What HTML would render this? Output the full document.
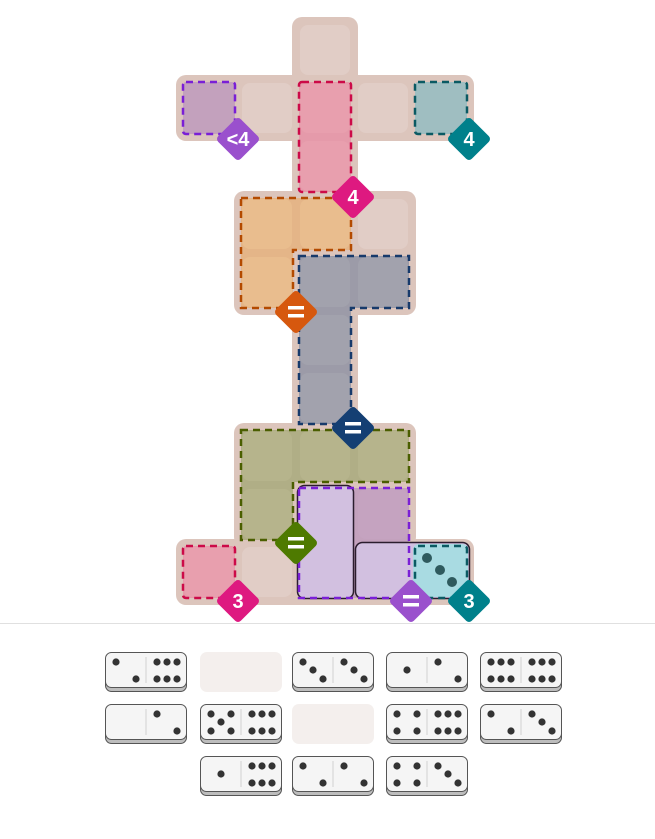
<!DOCTYPE html>
<html><head><meta charset="utf-8"><style>
html,body{margin:0;padding:0;background:#fff;}
svg{display:block;}
text{font-family:"Liberation Sans",sans-serif;font-weight:bold;fill:#fff;text-anchor:middle;}
</style></head><body>
<svg width="655" height="839" viewBox="0 0 655 839" xmlns="http://www.w3.org/2000/svg">
<defs>
<g id="p1"><circle cx="21" cy="18" r="3.6" fill="#333"/></g>
<g id="p2"><circle cx="11" cy="10" r="3.6" fill="#333"/><circle cx="31" cy="27" r="3.6" fill="#333"/></g>
<g id="p3"><use href="#p2"/><use href="#p1"/></g>
<g id="p4"><use href="#p2"/><circle cx="31" cy="10" r="3.6" fill="#333"/><circle cx="11" cy="27" r="3.6" fill="#333"/></g>
<g id="p5"><use href="#p4"/><use href="#p1"/></g>
<g id="p6"><use href="#p4"/><circle cx="21" cy="10" r="3.6" fill="#333"/><circle cx="21" cy="27" r="3.6" fill="#333"/></g>
<g id="dom"><rect x="0.5" y="2.5" width="81" height="37" rx="6" fill="#bdbdbd" stroke="#555"/><rect x="0.5" y="0.5" width="81" height="35" rx="6" fill="#f5f5f5" stroke="#555"/><line x1="41" y1="5" x2="41" y2="31" stroke="#ddd" stroke-width="1.5"/></g>
</defs>

<!-- board background -->
<g fill="#dcc5bc">
<rect x="292" y="17" width="66" height="182" rx="10"/>
<rect x="176" y="75" width="298" height="66" rx="10"/>
<rect x="234" y="191" width="182" height="124" rx="10"/>
<rect x="292" y="300" width="66" height="135"/>
<rect x="234" y="423" width="182" height="124" rx="10"/>
<rect x="176" y="539" width="298" height="66" rx="10"/>
</g>
<!-- blank cells -->
<g fill="#e1cdc6">
<rect x="300" y="25" width="50" height="50" rx="8"/>
<rect x="242" y="83" width="50" height="50" rx="8"/>
<rect x="358" y="83" width="50" height="50" rx="8"/>
<rect x="358" y="199" width="50" height="50" rx="8"/>
<rect x="242" y="547" width="50" height="50" rx="8"/>
</g>

<!-- region fills -->
<rect x="183" y="82" width="52" height="52" fill="#c3a1bd" rx="3"/>
<rect x="415" y="82" width="52" height="52" fill="#9fbec1" rx="3"/>
<rect x="299" y="82" width="52" height="110" fill="#e59aaa" rx="3"/>
<polygon points="241,198 351,198 351,250 293,250 293,308 241,308" fill="#e4b588"/>
<polygon points="299,256 409,256 409,308 351,308 351,424 299,424" fill="#9c9ba8"/>
<polygon points="241,430 409,430 409,482 293,482 293,540 241,540" fill="#b0ae86"/>
<rect x="299" y="488" width="110" height="110" fill="#c3a1bd"/>
<rect x="183" y="546" width="52" height="52" fill="#e59aaa" rx="3"/>
<rect x="415" y="546" width="52" height="52" fill="#9fbec1"/>
<!-- region cells -->
<g fill="#e9bd8e"><rect x="242" y="199" width="50" height="50" rx="8"/><rect x="300" y="199" width="50" height="50" rx="8"/><rect x="242" y="257" width="50" height="50" rx="8"/></g>
<g fill="#a2a2ad"><rect x="300" y="257" width="50" height="50" rx="8"/><rect x="358" y="257" width="50" height="50" rx="8"/><rect x="300" y="315" width="50" height="50" rx="8"/><rect x="300" y="373" width="50" height="50" rx="8"/></g>
<g fill="#b6b48c"><rect x="242" y="431" width="50" height="50" rx="8"/><rect x="300" y="431" width="50" height="50" rx="8"/><rect x="358" y="431" width="50" height="50" rx="8"/><rect x="242" y="489" width="50" height="50" rx="8"/></g>
<g fill="#e89fae"><rect x="300" y="83" width="50" height="50" rx="8"/><rect x="300" y="141" width="50" height="50" rx="8"/><rect x="184" y="547" width="50" height="50" rx="8"/></g>
<rect x="358" y="489" width="50" height="50" rx="8" fill="#c5a3c0"/>

<!-- placed dominoes -->
<rect x="297.5" y="485.5" width="56" height="113" rx="7" fill="#d2c0e0" stroke="#2b1d2e" stroke-width="1.5"/>
<rect x="355.5" y="542.5" width="114" height="56" rx="7" fill="#d2c0e0" stroke="#2b1d2e" stroke-width="1.5"/>
<rect x="413" y="544" width="55" height="53" rx="6" fill="#a9dbe2"/>
<g fill="#2f5a5e"><circle cx="427" cy="558" r="5"/><circle cx="440" cy="570" r="5"/><circle cx="452" cy="582" r="5"/></g>

<!-- dashed outlines -->
<g fill="none" stroke-width="2.5" stroke-dasharray="7,5">
<rect x="183" y="82" width="52" height="52" rx="3" stroke="#7a1fd6"/>
<rect x="415" y="82" width="52" height="52" rx="3" stroke="#0b5a63"/>
<rect x="299" y="82" width="52" height="110" rx="3" stroke="#cc0a48"/>
<polygon points="241,198 351,198 351,250 293,250 293,308 241,308" stroke="#b34a00"/>
<polygon points="299,256 409,256 409,308 351,308 351,424 299,424" stroke="#173a6b"/>
<polygon points="241,430 409,430 409,482 293,482 293,540 241,540" stroke="#4a5e00"/>
<rect x="299" y="488" width="110" height="110" stroke="#7a1fd6"/>
<rect x="183" y="546" width="52" height="52" rx="3" stroke="#cc0a48"/>
<rect x="415" y="546" width="52" height="52" rx="3" stroke="#0b5a63"/>
</g>

<!-- badges -->
<g>
<g transform="translate(238,139) rotate(45)"><rect x="-16" y="-16" width="32" height="32" rx="4" fill="#9a50cd"/></g>
<text x="238" y="146" font-size="20">&lt;4</text>
<g transform="translate(469,139) rotate(45)"><rect x="-16" y="-16" width="32" height="32" rx="4" fill="#00808b"/></g>
<text x="469" y="146" font-size="20">4</text>
<g transform="translate(353,197) rotate(45)"><rect x="-16" y="-16" width="32" height="32" rx="4" fill="#de1980"/></g>
<text x="353" y="204" font-size="20">4</text>
<g transform="translate(296,312) rotate(45)"><rect x="-16" y="-16" width="32" height="32" rx="4" fill="#d6580e"/></g>
<g fill="#fff"><rect x="288" y="306" width="16" height="3.5"/><rect x="288" y="314" width="16" height="3.5"/></g>
<g transform="translate(353,428) rotate(45)"><rect x="-16" y="-16" width="32" height="32" rx="4" fill="#143f73"/></g>
<g fill="#fff"><rect x="345" y="422" width="16" height="3.5"/><rect x="345" y="430" width="16" height="3.5"/></g>
<g transform="translate(296,543) rotate(45)"><rect x="-16" y="-16" width="32" height="32" rx="4" fill="#4e7a00"/></g>
<g fill="#fff"><rect x="288" y="537" width="16" height="3.5"/><rect x="288" y="545" width="16" height="3.5"/></g>
<g transform="translate(238,601) rotate(45)"><rect x="-16" y="-16" width="32" height="32" rx="4" fill="#de1980"/></g>
<text x="238" y="608" font-size="20">3</text>
<g transform="translate(411,601) rotate(45)"><rect x="-16" y="-16" width="32" height="32" rx="4" fill="#9a50cd"/></g>
<g fill="#fff"><rect x="403" y="595" width="16" height="3.5"/><rect x="403" y="603" width="16" height="3.5"/></g>
<g transform="translate(469,601) rotate(45)"><rect x="-16" y="-16" width="32" height="32" rx="4" fill="#00808b"/></g>
<text x="469" y="608" font-size="20">3</text>
</g>

<line x1="0" y1="623.5" x2="655" y2="623.5" stroke="#e0e0e0"/>

<!-- tray row 1 -->
<use href="#dom" x="105" y="652"/><use href="#p2" x="105" y="652"/><use href="#p6" x="146" y="652"/>
<rect x="200" y="652" width="82" height="40" rx="7" fill="#f4efed"/>
<use href="#dom" x="292" y="652"/><use href="#p3" x="292" y="652"/><use href="#p3" x="333" y="652"/>
<use href="#dom" x="386" y="652"/><use href="#p1" x="386" y="652"/><use href="#p2" x="427" y="652"/>
<use href="#dom" x="480" y="652"/><use href="#p6" x="480" y="652"/><use href="#p6" x="521" y="652"/>
<!-- tray row 2 -->
<use href="#dom" x="105" y="704"/><use href="#p2" x="146" y="704"/>
<use href="#dom" x="200" y="704"/><use href="#p5" x="200" y="704"/><use href="#p6" x="241" y="704"/>
<rect x="292" y="704" width="82" height="40" rx="7" fill="#f4efed"/>
<use href="#dom" x="386" y="704"/><use href="#p4" x="386" y="704"/><use href="#p6" x="427" y="704"/>
<use href="#dom" x="480" y="704"/><use href="#p2" x="480" y="704"/><use href="#p3" x="521" y="704"/>
<!-- tray row 3 -->
<use href="#dom" x="200" y="756"/><use href="#p1" x="200" y="756"/><use href="#p6" x="241" y="756"/>
<use href="#dom" x="292" y="756"/><use href="#p2" x="292" y="756"/><use href="#p2" x="333" y="756"/>
<use href="#dom" x="386" y="756"/><use href="#p4" x="386" y="756"/><use href="#p3" x="427" y="756"/>
</svg>
</body></html>
